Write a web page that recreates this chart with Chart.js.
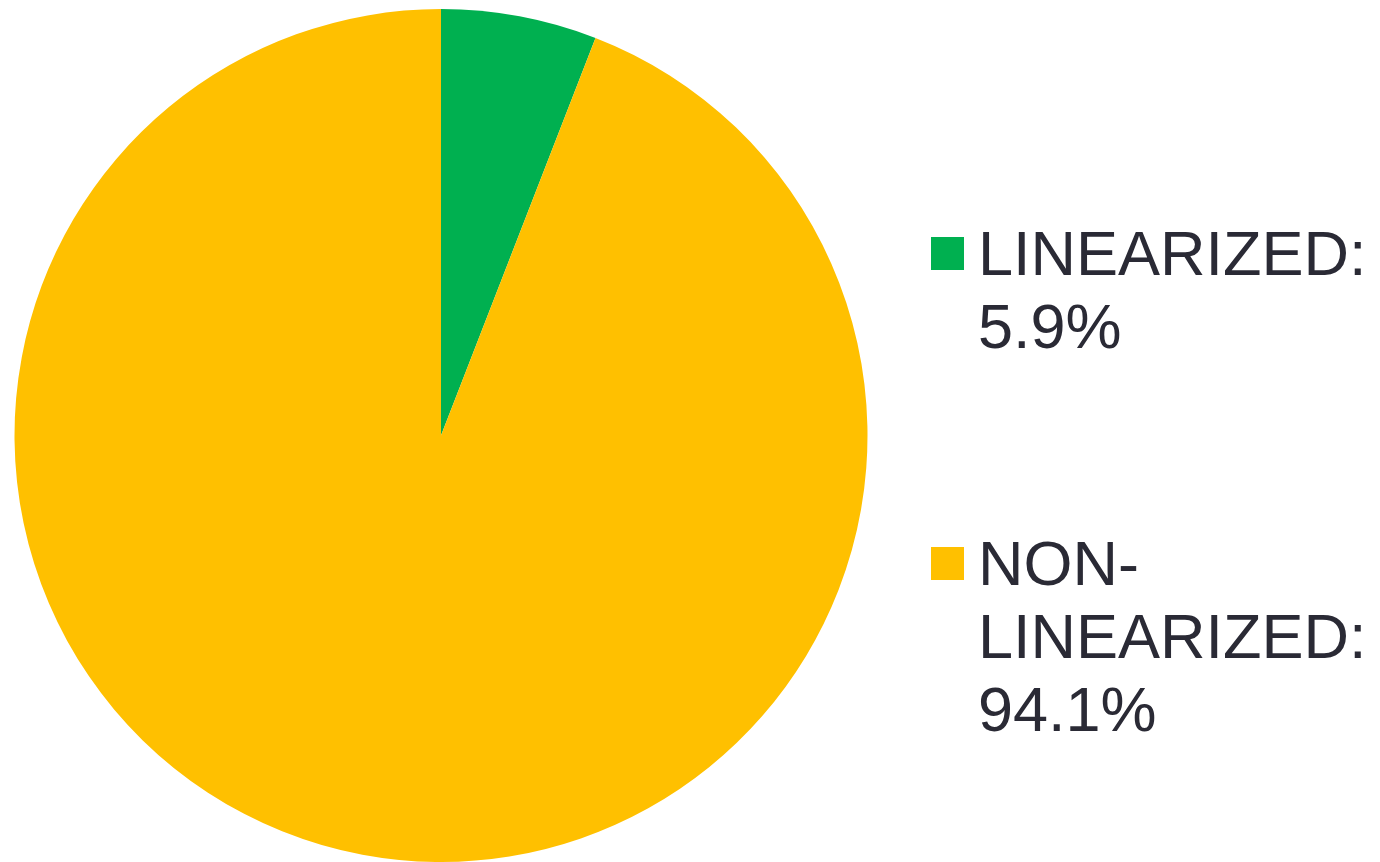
<!DOCTYPE html>
<html>
<head>
<meta charset="utf-8">
<script src="https://cdn.jsdelivr.net/npm/chart.js@4/dist/chart.umd.min.js"></script>
<style>
  html, body { margin: 0; padding: 0; background: #ffffff; width: 1380px; height: 862px; overflow: hidden; }
  #chartBox { position: absolute; left: 14px; top: 9px; width: 854px; height: 853px; }
  .legend-item { position: absolute; left: 931px; font-family: "Liberation Sans", Arial, sans-serif; font-size: 63px; line-height: 73px; color: #2a2a35; }
  .legend-item .swatch { position: absolute; left: 0; top: 20px; width: 33px; height: 33px; }
  .legend-item .text { position: absolute; left: 47px; top: 0; white-space: nowrap; }
</style>
</head>
<body>
<div id="chartBox"><canvas id="c"></canvas></div>
<div id="legend"></div>
<script>
const categories = ["LINEARIZED", "NON-LINEARIZED"];
const legendLines = [["LINEARIZED:", "5.9%"], ["NON-", "LINEARIZED:", "94.1%"]];
const values = [5.9, 94.1];
const colors = ["#00B050", "#FFC000"];
const legendTops = [217, 527];

new Chart(document.getElementById("c"), {
  type: "pie",
  data: {
    labels: categories,
    datasets: [{ data: values, backgroundColor: colors, borderWidth: 0 }]
  },
  options: {
    responsive: true,
    maintainAspectRatio: false,
    animation: false,
    layout: { padding: 0 },
    plugins: { legend: { display: false }, tooltip: { enabled: false } }
  }
});

const legend = document.getElementById("legend");
categories.forEach((cat, i) => {
  const item = document.createElement("div");
  item.className = "legend-item";
  item.style.top = legendTops[i] + "px";
  const sw = document.createElement("div");
  sw.className = "swatch";
  sw.style.background = colors[i];
  const tx = document.createElement("div");
  tx.className = "text";
  tx.innerHTML = legendLines[i].join("<br>");
  item.appendChild(sw);
  item.appendChild(tx);
  legend.appendChild(item);
});
</script>
</body>
</html>
